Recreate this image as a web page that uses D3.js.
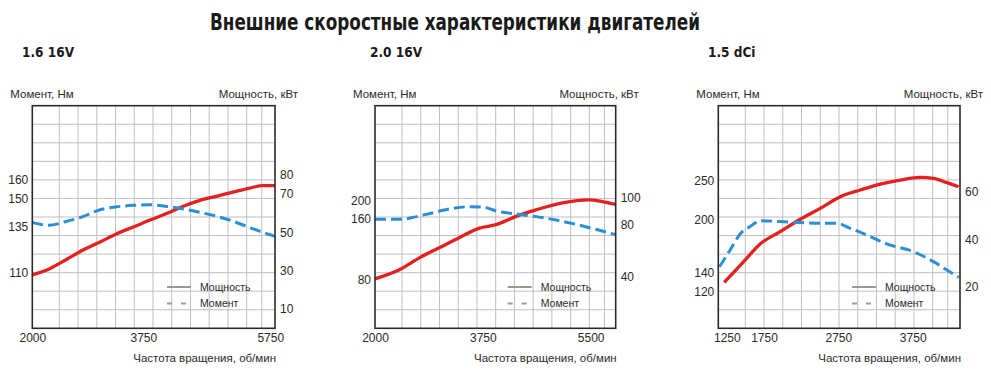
<!DOCTYPE html>
<html><head><meta charset="utf-8">
<script src="https://cdn.jsdelivr.net/npm/d3@7"></script>
<style>
html,body{margin:0;padding:0;background:#fff;}
svg{display:block;}
.tick text{font-family:"Liberation Sans",Arial,sans-serif;font-size:12px;fill:#2a2a2a;}
</style></head>
<body><svg id="c" width="991" height="378"></svg>
<script>
// ---------- DATA ----------
const chartTitle = "Внешние скоростные характеристики двигателей";
const engineNames = ["1.6 16V", "2.0 16V", "1.5 dCi"];
const seriesNames = ["Мощность", "Момент"];
const torqueLabel = "Момент, Нм";
const powerLabel = "Мощность, кВт";
const rpmLabel = "Частота вращения, об/мин";

// 1.6 16V
const power16Rpm = [2000,2283,2545,2807,3069,3331,3593,3855,4117,4379,4641,4903,5165,5427,5637,5825];
const power16Kw  = [27.8,31.2,36.0,40.9,45.0,49.3,52.8,56.4,59.8,63.6,66.7,68.8,71.0,73.1,74.3,74.3];
const torque16Rpm = [2000,2257,2545,2781,3069,3331,3593,3855,4117,4379,4641,4903,5165,5479,5825];
const torque16Nm  = [137.1,135.5,137.7,140.0,143.9,145.5,146.3,146.6,145.7,144.3,142.5,140.4,137.7,133.6,129.6];
// 2.0 16V
const power20Rpm = [2000,2404,2727,3050,3373,3696,3966,4289,4612,5043,5473,5689,5915];
const power20Kw  = [38.0,45.2,54.3,62.0,69.8,77.0,79.6,86.0,91.0,96.4,98.7,97.4,95.1];
const torque20Rpm = [2000,2431,2673,2942,3265,3535,3750,3966,4289,4612,4935,5258,5581,5915];
const torque20Nm  = [158.7,158.7,163.8,172.8,182.6,186.4,185.7,176.6,169.8,163.8,157.8,152.1,145.6,138.2];
// 1.5 dCi
const power15Rpm = [1214,1474,1698,1967,2237,2506,2775,3044,3313,3582,3851,4030,4210,4367];
const power15Kw  = [21.8,30.5,38.0,43.2,48.4,53.0,57.9,60.7,63.2,64.9,66.0,65.6,63.8,62.1];
const torque15Rpm = [1151,1295,1429,1564,1698,1967,2237,2506,2730,2909,3133,3402,3761,4030,4210,4367];
const torque15Nm  = [146.7,165.5,183.5,191.8,198.5,197.4,196.3,195.5,195.5,189.9,182.4,172.3,163.6,152.4,143.0,135.1];

// tick labels
const xTicks16 = [2000,3750,5750], xTicks20 = [2000,3750,5500], xTicks15 = [1250,1750,2750,3750];
const nmTicks16 = [110,135,150,160], nmTicks20 = [80,160,200], nmTicks15 = [120,140,200,250];
const kwTicks16 = [10,30,50,70,80], kwTicks20 = [40,80,100], kwTicks15 = [20,40,60];

// ---------- LAYOUT ----------
const TOP = 105.7, BOTTOM = 328.3;
const panels = [
  {name: engineNames[0], nameX: 22, x0: 32.3, x1: 275, xDomain: [2000,5825], kwDomain: [0,116],
   nmKnots: [80,200], nmY: [BOTTOM, TOP],
   pRpm: power16Rpm, pKw: power16Kw, tRpm: torque16Rpm, tNm: torque16Nm,
   xT: xTicks16, nT: nmTicks16, kT: kwTicks16},
  {name: engineNames[1], nameX: 370, x0: 375, x1: 615.7, xDomain: [2000,5906], kwDomain: [0,171],
   nmKnots: [80,160,200], nmY: [279.3,218.3,200.7],
   pRpm: power20Rpm, pKw: power20Kw, tRpm: torque20Rpm, tNm: torque20Nm,
   xT: xTicks20, nT: nmTicks20, kT: kwTicks20},
  {name: engineNames[2], nameX: 708, x0: 718.3, x1: 960, xDomain: [1135,4386], kwDomain: [2.5,96.2],
   nmKnots: [120,140,200,250], nmY: [291.7,272.7,219.3,180.7],
   pRpm: power15Rpm, pKw: power15Kw, tRpm: torque15Rpm, tNm: torque15Nm,
   xT: xTicks15, nT: nmTicks15, kT: kwTicks15}
];

const RED = "#e5211f", BLUE = "#2b8fd6";
const narrow = '"Liberation Sans Narrow","DejaVu Sans Condensed","Liberation Sans",Arial,sans-serif';
const regular = '"Liberation Sans",Arial,sans-serif';

const svg = d3.select("#c");

svg.append("text").attr("x", 455).attr("y", 30).attr("text-anchor", "middle")
  .attr("font-family", narrow).attr("font-weight", "bold").attr("font-size", 23)
  .attr("textLength", 490).attr("lengthAdjust", "spacingAndGlyphs")
  .attr("fill", "#1a1a1a").text(chartTitle);

panels.forEach((p, i) => {
  const g = svg.append("g");
  const x = d3.scaleLinear().domain(p.xDomain).range([p.x0, p.x1]);
  const yKw = d3.scaleLinear().domain(p.kwDomain).range([BOTTOM, TOP]);
  const yNm = d3.scaleLinear().domain(p.nmKnots).range(p.nmY);
  const w = p.x1 - p.x0, h = BOTTOM - TOP;

  // engine label
  g.append("text").attr("x", p.nameX).attr("y", 57)
    .attr("font-family", narrow).attr("font-weight", "bold").attr("font-size", 13.5)
    .attr("fill", "#1a1a1a").text(p.name);

  // unit labels
  g.append("text").attr("x", p.x0 - 22).attr("y", 97.5)
    .attr("font-family", regular).attr("font-size", 11.5).attr("fill", "#2a2a2a").text(torqueLabel);
  g.append("text").attr("x", p.x1 + 23).attr("y", 97.5).attr("text-anchor", "end")
    .attr("font-family", regular).attr("font-size", 11.5).attr("fill", "#2a2a2a").text(powerLabel);
  g.append("text").attr("x", p.x1 + 1).attr("y", 362).attr("text-anchor", "end")
    .attr("font-family", regular).attr("font-size", 11.5).attr("fill", "#2a2a2a").text(rpmLabel);

  // grid
  const vOff = d3.range(11).map(k => 27 + 18.74 * k).concat([229.5]);
  g.append("g").selectAll("line").data(vOff).join("line")
    .attr("x1", d => p.x0 + d).attr("x2", d => p.x0 + d)
    .attr("y1", TOP).attr("y2", BOTTOM)
    .attr("stroke", "#b8b8b8").attr("stroke-width", 0.9);
  g.append("g").selectAll("line").data(d3.range(1, 12)).join("line")
    .attr("x1", p.x0).attr("x2", p.x1)
    .attr("y1", d => TOP + d * h / 12).attr("y2", d => TOP + d * h / 12)
    .attr("stroke", "#b8b8b8").attr("stroke-width", 0.9);

  // legend
  const lx = p.x1 - 108;
  g.append("line").attr("x1", lx).attr("x2", lx + 24).attr("y1", 287).attr("y2", 287)
    .attr("stroke", "#9a9a92").attr("stroke-width", 2);
  g.append("line").attr("x1", lx).attr("x2", lx + 24).attr("y1", 303.5).attr("y2", 303.5)
    .attr("stroke", "#8aa0b4").attr("stroke-width", 2.2).attr("stroke-dasharray", "5,9");
  g.append("text").attr("x", p.x1 - 75).attr("y", 290.5)
    .attr("font-family", regular).attr("font-size", 10.5).attr("fill", "#2a2a2a").text(seriesNames[0]);
  g.append("text").attr("x", p.x1 - 75).attr("y", 307)
    .attr("font-family", regular).attr("font-size", 10.5).attr("fill", "#2a2a2a").text(seriesNames[1]);

  // clip
  const cid = "clip" + i;
  svg.append("clipPath").attr("id", cid).append("rect")
    .attr("x", p.x0).attr("y", TOP).attr("width", w).attr("height", h);

  const lineP = d3.line().x(d => x(d[0])).y(d => yKw(d[1])).curve(d3.curveMonotoneX);
  const lineT = d3.line().x(d => x(d[0])).y(d => yNm(d[1])).curve(d3.curveMonotoneX);
  const pData = d3.zip(p.pRpm, p.pKw);
  const tData = d3.zip(p.tRpm, p.tNm);

  const cg = g.append("g").attr("clip-path", `url(#${cid})`);
  cg.append("path").datum(pData).attr("d", lineP).attr("fill", "none")
    .attr("stroke", RED).attr("stroke-width", 3.3).attr("stroke-linejoin", "round");
  cg.append("path").datum(tData).attr("d", lineT).attr("fill", "none")
    .attr("stroke", BLUE).attr("stroke-width", 3).attr("stroke-dasharray", "11,5");

  // frame
  g.append("rect").attr("x", p.x0).attr("y", TOP).attr("width", w).attr("height", h)
    .attr("fill", "none").attr("stroke", "#2a2a2a").attr("stroke-width", 1.6);

  // axes (labels only)
  const ax1 = g.append("g").attr("transform", `translate(${p.x0},0)`)
    .call(d3.axisLeft(yNm).tickValues(p.nT).tickSize(0).tickPadding(4));
  const ax2 = g.append("g").attr("transform", `translate(${p.x1},0)`)
    .call(d3.axisRight(yKw).tickValues(p.kT).tickSize(0).tickPadding(5));
  const ax3 = g.append("g").attr("transform", `translate(0,${BOTTOM})`)
    .call(d3.axisBottom(x).tickValues(p.xT).tickSize(0).tickPadding(5).tickFormat(d3.format("d")));
  [ax1, ax2, ax3].forEach(a => { a.select(".domain").remove(); a.attr("font-family", null).attr("font-size", null); });
});
</script></body></html>
